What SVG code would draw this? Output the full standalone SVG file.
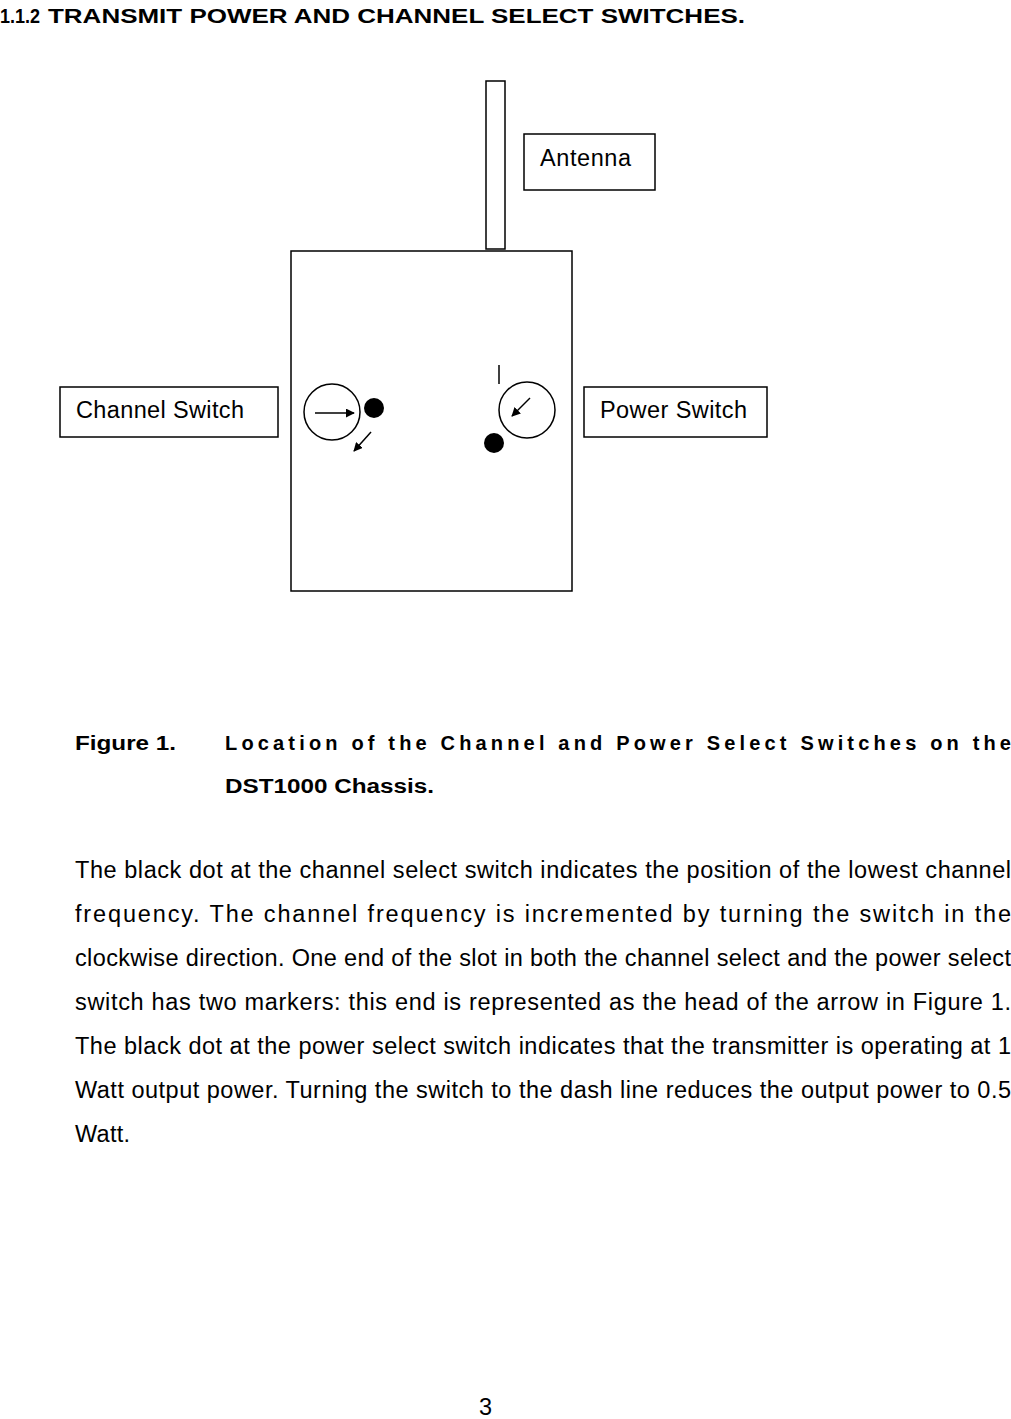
<svg xmlns="http://www.w3.org/2000/svg" width="1011" height="1419" viewBox="0 0 1011 1419">
<style>
.b{fill:#fff;stroke:#000;stroke-width:1.5}
.t{font-family:"Liberation Sans",Arial,sans-serif;font-size:23.5px;fill:#000}
.h{font-family:"Liberation Sans",Arial,sans-serif;font-size:20px;font-weight:bold;fill:#000}
.l{stroke:#000;stroke-width:1.5;fill:none}
</style>
<defs><marker id="a" viewBox="0 0 10 10" refX="9" refY="5" markerWidth="6" markerHeight="6" orient="auto"><path d="M0,0L10,5L0,10z" fill="#000"/></marker></defs>
<rect width="1011" height="1419" fill="#fff"/>
<g class="h">
<text x="0" y="23" textLength="40" lengthAdjust="spacingAndGlyphs">1.1.2</text>
<text x="48" y="23" textLength="697" lengthAdjust="spacingAndGlyphs">TRANSMIT POWER AND CHANNEL SELECT SWITCHES.</text>
</g>
<g id="antenna"><rect class="b" x="486" y="81" width="19" height="168"/></g>
<g id="chassis"><rect class="b" x="291" y="251" width="281" height="340"/></g>
<g id="antenna-label"><rect class="b" x="524" y="134" width="131" height="56"/><text class="t" x="540" y="166" textLength="91">Antenna</text></g>
<g id="channel-label"><rect class="b" x="60" y="387" width="218" height="50"/><text class="t" x="76" y="418" textLength="168">Channel Switch</text></g>
<g id="power-label"><rect class="b" x="584" y="387" width="183" height="50"/><text class="t" x="600" y="418" textLength="147">Power Switch</text></g>
<g id="channel-switch"><circle class="b" cx="332" cy="412" r="28"/><circle cx="374" cy="408" r="10"/></g>
<g id="power-switch"><circle class="b" cx="527" cy="410" r="28"/><circle cx="494" cy="443" r="10"/><line class="l" x1="499" y1="365" x2="499" y2="384"/></g>
<g id="connectors">
<line class="l" x1="315" y1="413" x2="354" y2="413" marker-end="url(#a)"/>
<line class="l" x1="371" y1="432" x2="354" y2="451" marker-end="url(#a)"/>
<line class="l" x1="530" y1="398" x2="512" y2="416" marker-end="url(#a)"/>
</g>
<g class="h">
<text x="75" y="750" textLength="101" lengthAdjust="spacingAndGlyphs">Figure 1.</text>
<text x="225" y="750" textLength="786" lengthAdjust="spacing">Location of the Channel and Power Select Switches on the</text>
<text x="225" y="793" textLength="209" lengthAdjust="spacingAndGlyphs">DST1000 Chassis.</text>
</g>
<g class="t">
<text x="75" y="878" textLength="936">The black dot at the channel select switch indicates the position of the lowest channel</text>
<text x="75" y="922" textLength="936" lengthAdjust="spacing">frequency. The channel frequency is incremented by turning the switch in the</text>
<text x="75" y="966" textLength="936">clockwise direction. One end of the slot in both the channel select and the power select</text>
<text x="75" y="1010" textLength="936">switch has two markers: this end is represented as the head of the arrow in Figure 1.</text>
<text x="75" y="1054" textLength="936">The black dot at the power select switch indicates that the transmitter is operating at 1</text>
<text x="75" y="1098" textLength="936">Watt output power. Turning the switch to the dash line reduces the output power to 0.5</text>
<text x="75" y="1142" textLength="55">Watt.</text>
<text x="479" y="1415">3</text>
</g>
</svg>
